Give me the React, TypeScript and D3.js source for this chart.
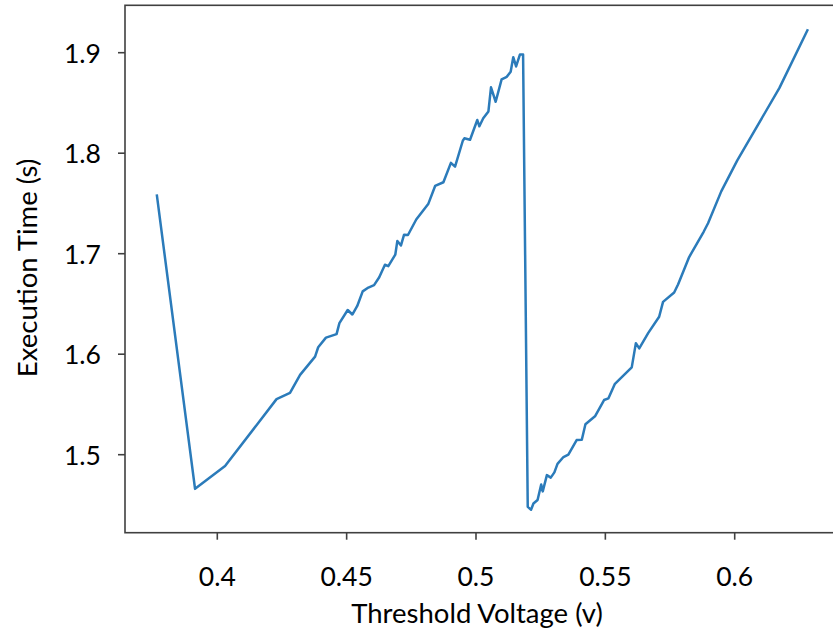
import React from "react";
import * as d3 from "d3";

const voltage = [
  0.3766, 0.3914, 0.4030, 0.4229, 0.4281, 0.4320, 0.4378, 0.4390, 0.4420, 0.4461,
  0.4472, 0.4504, 0.4522, 0.4541, 0.4562, 0.4584, 0.4606, 0.4626, 0.4648, 0.4661,
  0.4688, 0.4696, 0.4710, 0.4722, 0.4737, 0.4769, 0.4816, 0.4842, 0.4874, 0.4903,
  0.4919, 0.4949, 0.4955, 0.4977, 0.5005, 0.5013, 0.5028, 0.5048, 0.5058, 0.5076,
  0.5099, 0.5119, 0.5134, 0.5144, 0.5155, 0.5170, 0.5182,
  0.5200, 0.5213, 0.5222, 0.5238, 0.5252, 0.5258, 0.5274, 0.5289, 0.5303, 0.5315,
  0.5338, 0.5357, 0.5389, 0.5409, 0.5423, 0.5460, 0.5495, 0.5512, 0.5537, 0.5602,
  0.5618, 0.5631, 0.5666, 0.5708, 0.5723, 0.5766, 0.5781, 0.5824, 0.5880, 0.5897,
  0.5948, 0.6010, 0.6173, 0.6283,
];
const execTime = [
  1.759, 1.466, 1.4887, 1.5553, 1.5615, 1.5794, 1.5976, 1.6069, 1.6165, 1.6200,
  1.6309, 1.6440, 1.6395, 1.6480, 1.6625, 1.6663, 1.6687, 1.6766, 1.6890, 1.6876,
  1.6990, 1.7127, 1.7082, 1.7189, 1.7186, 1.7340, 1.7498, 1.7674, 1.7711, 1.7904,
  1.7866, 1.8124, 1.8148, 1.8134, 1.8330, 1.8268, 1.8347, 1.8416, 1.8656, 1.8512,
  1.8735, 1.8760, 1.8811, 1.8955, 1.8863, 1.8983, 1.8983,
  1.4481, 1.4453, 1.4515, 1.4550, 1.4703, 1.4635, 1.4797, 1.4772, 1.4824, 1.4909,
  1.4977, 1.5001, 1.5146, 1.5149, 1.5303, 1.5382, 1.5544, 1.5561, 1.5705, 1.5869,
  1.6110, 1.6058, 1.6212, 1.6373, 1.6521, 1.6614, 1.6693, 1.6967, 1.7218, 1.7303,
  1.7620, 1.7929, 1.8650, 1.9233,
];
const xTicks = [0.4, 0.45, 0.5, 0.55, 0.6];
const xTickLabels = ["0.4", "0.45", "0.5", "0.55", "0.6"];
const yTicks = [1.5, 1.6, 1.7, 1.8, 1.9];
const yTickLabels = ["1.5", "1.6", "1.7", "1.8", "1.9"];
const xLabel = "Threshold Voltage (v)";
const yLabel = "Execution Time (s)";

const W = 833;
const H = 631;
const FONT = "Lato, 'Open Sans', sans-serif";

export default function App() {
  const data = voltage.map((v, i) => ({ v, t: execTime[i] }));
  const x = d3.scaleLinear().domain([0.4, 0.6]).range([217.3, 734.7]);
  const y = d3.scaleLinear().domain([1.5, 1.9]).range([454.7, 52.7]);
  const x0 = 125, x1 = 841, y0 = 5.3, y1 = 532.7;
  const line = d3
    .line<{ v: number; t: number }>()
    .x((d) => x(d.v))
    .y((d) => y(d.t));
  const axisColor = "#404040";
  return (
    <svg
      width={W}
      height={H}
      style={{ position: "absolute", left: 0, top: 0, background: "#fff" }}
    >
      <rect x={0} y={0} width={W} height={H} fill="#fff" />
      <path d={line(data) || ""} fill="none" stroke="#2b7bba" strokeWidth={2.5} strokeLinejoin="round" />
      <rect x={x0} y={y0} width={x1 - x0} height={y1 - y0} fill="none" stroke={axisColor} strokeWidth={1.6} />
      {xTicks.map((t, i) => (
        <g key={"x" + i}>
          <line x1={x(t)} x2={x(t)} y1={y1} y2={y1 + 7} stroke={axisColor} strokeWidth={1.6} />
          <text x={x(t)} y={576} textAnchor="middle" dominantBaseline="central" fontFamily={FONT} fontSize={26.5} fill="#000">
            {xTickLabels[i]}
          </text>
        </g>
      ))}
      {yTicks.map((t, i) => (
        <g key={"y" + i}>
          <line x1={x0 - 7} x2={x0} y1={y(t)} y2={y(t)} stroke={axisColor} strokeWidth={1.6} />
          <text x={101} y={y(t)} textAnchor="end" dominantBaseline="central" fontFamily={FONT} fontSize={26.5} fill="#000">
            {yTickLabels[i]}
          </text>
        </g>
      ))}
      <text x={477} y={612} textAnchor="middle" dominantBaseline="central" fontFamily={FONT} fontSize={27.5} fill="#000">
        {xLabel}
      </text>
      <text
        transform={`translate(26, ${268}) rotate(-90)`}
        textAnchor="middle"
        dominantBaseline="central"
        fontFamily={FONT}
        fontSize={27.5}
        fill="#000"
      >
        {yLabel}
      </text>
    </svg>
  );
}
